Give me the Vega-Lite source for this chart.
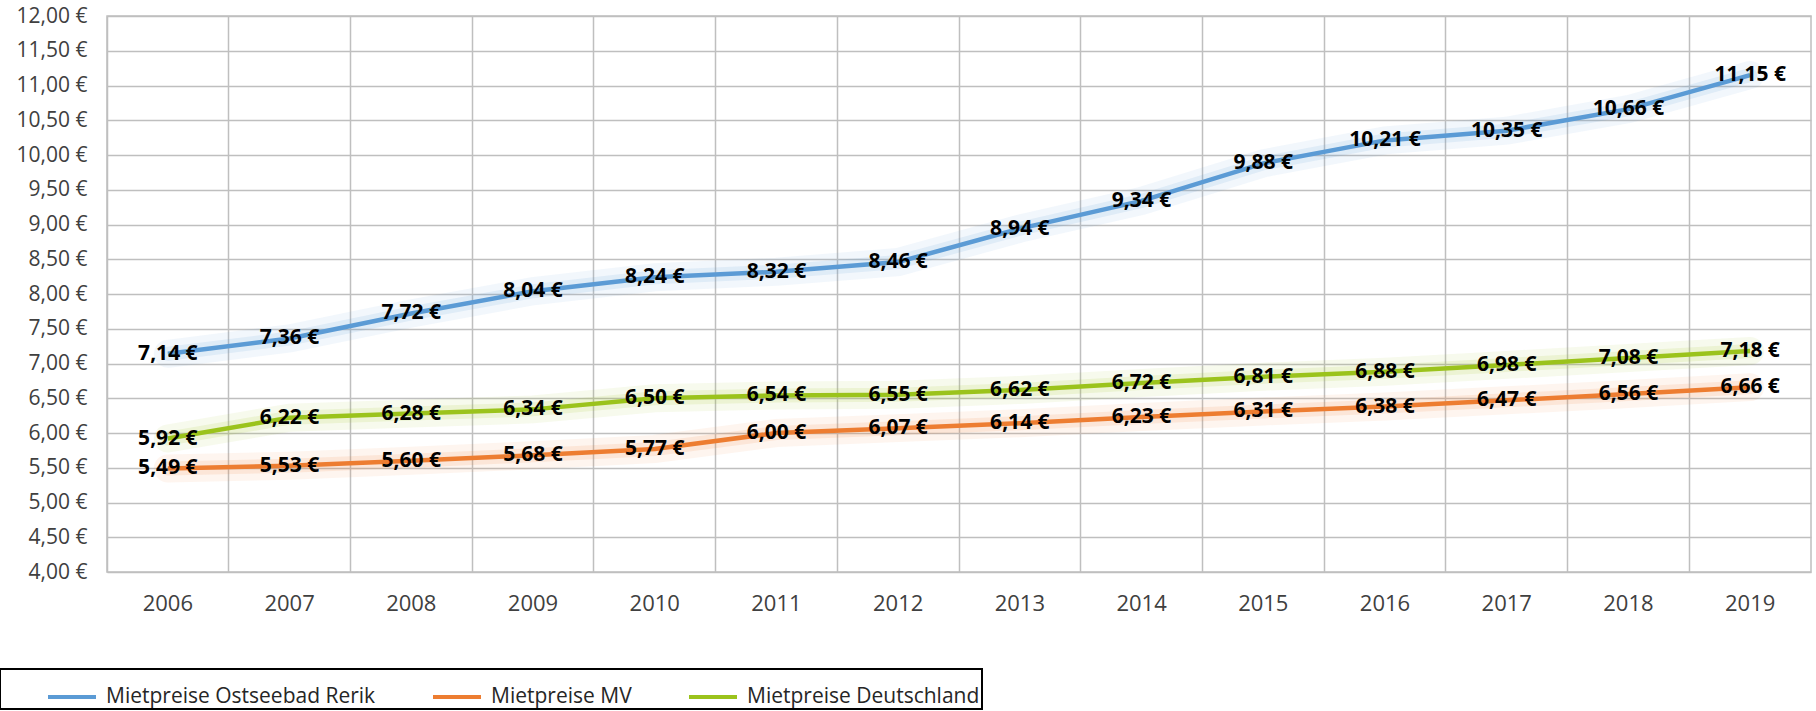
{
  "$schema": "https://vega.github.io/schema/vega-lite/v6.json",
  "width": 1704,
  "height": 556,
  "autosize": {"type": "none"},
  "padding": {"left": 107, "top": 16, "right": 5, "bottom": 139},
  "background": "white",
  "data": {
    "values": [
      {"year": "2006", "series": "Mietpreise Ostseebad Rerik", "value": 7.14},
      {"year": "2007", "series": "Mietpreise Ostseebad Rerik", "value": 7.36},
      {"year": "2008", "series": "Mietpreise Ostseebad Rerik", "value": 7.72},
      {"year": "2009", "series": "Mietpreise Ostseebad Rerik", "value": 8.04},
      {"year": "2010", "series": "Mietpreise Ostseebad Rerik", "value": 8.24},
      {"year": "2011", "series": "Mietpreise Ostseebad Rerik", "value": 8.32},
      {"year": "2012", "series": "Mietpreise Ostseebad Rerik", "value": 8.46},
      {"year": "2013", "series": "Mietpreise Ostseebad Rerik", "value": 8.94},
      {"year": "2014", "series": "Mietpreise Ostseebad Rerik", "value": 9.34},
      {"year": "2015", "series": "Mietpreise Ostseebad Rerik", "value": 9.88},
      {"year": "2016", "series": "Mietpreise Ostseebad Rerik", "value": 10.21},
      {"year": "2017", "series": "Mietpreise Ostseebad Rerik", "value": 10.35},
      {"year": "2018", "series": "Mietpreise Ostseebad Rerik", "value": 10.66},
      {"year": "2019", "series": "Mietpreise Ostseebad Rerik", "value": 11.15},
      {"year": "2006", "series": "Mietpreise MV", "value": 5.49},
      {"year": "2007", "series": "Mietpreise MV", "value": 5.53},
      {"year": "2008", "series": "Mietpreise MV", "value": 5.60},
      {"year": "2009", "series": "Mietpreise MV", "value": 5.68},
      {"year": "2010", "series": "Mietpreise MV", "value": 5.77},
      {"year": "2011", "series": "Mietpreise MV", "value": 6.00},
      {"year": "2012", "series": "Mietpreise MV", "value": 6.07},
      {"year": "2013", "series": "Mietpreise MV", "value": 6.14},
      {"year": "2014", "series": "Mietpreise MV", "value": 6.23},
      {"year": "2015", "series": "Mietpreise MV", "value": 6.31},
      {"year": "2016", "series": "Mietpreise MV", "value": 6.38},
      {"year": "2017", "series": "Mietpreise MV", "value": 6.47},
      {"year": "2018", "series": "Mietpreise MV", "value": 6.56},
      {"year": "2019", "series": "Mietpreise MV", "value": 6.66},
      {"year": "2006", "series": "Mietpreise Deutschland", "value": 5.92},
      {"year": "2007", "series": "Mietpreise Deutschland", "value": 6.22},
      {"year": "2008", "series": "Mietpreise Deutschland", "value": 6.28},
      {"year": "2009", "series": "Mietpreise Deutschland", "value": 6.34},
      {"year": "2010", "series": "Mietpreise Deutschland", "value": 6.50},
      {"year": "2011", "series": "Mietpreise Deutschland", "value": 6.54},
      {"year": "2012", "series": "Mietpreise Deutschland", "value": 6.55},
      {"year": "2013", "series": "Mietpreise Deutschland", "value": 6.62},
      {"year": "2014", "series": "Mietpreise Deutschland", "value": 6.72},
      {"year": "2015", "series": "Mietpreise Deutschland", "value": 6.81},
      {"year": "2016", "series": "Mietpreise Deutschland", "value": 6.88},
      {"year": "2017", "series": "Mietpreise Deutschland", "value": 6.98},
      {"year": "2018", "series": "Mietpreise Deutschland", "value": 7.08},
      {"year": "2019", "series": "Mietpreise Deutschland", "value": 7.18}
    ]
  },
  "encoding": {
    "x": {
      "field": "year", "type": "ordinal", "title": null,
      "scale": {"type": "band", "paddingInner": 0, "paddingOuter": 0},
      "axis": {
        "grid": true, "bandPosition": 0, "gridColor": "#BFBFBF", "gridWidth": 1.5,
        "ticks": false, "domain": false, "labelAngle": 0,
        "labelFontSize": 22, "labelPadding": 21, "labelColor": "#404040",
        "labelFont": "Open Sans"
      }
    },
    "y": {
      "field": "value", "type": "quantitative", "title": null,
      "scale": {"domain": [4, 12], "nice": false, "zero": false},
      "axis": {
        "values": [4, 4.5, 5, 5.5, 6, 6.5, 7, 7.5, 8, 8.5, 9, 9.5, 10, 10.5, 11, 11.5, 12],
        "format": "$.2f",
        "grid": true, "gridColor": "#BFBFBF", "gridWidth": 1.5,
        "ticks": false, "domain": false,
        "labelFontSize": 21, "labelPadding": 20, "labelColor": "#404040",
        "labelFont": "Open Sans"
      }
    },
    "color": {
      "field": "series", "type": "nominal",
      "scale": {
        "domain": ["Mietpreise Ostseebad Rerik", "Mietpreise MV", "Mietpreise Deutschland"],
        "range": ["#5B9BD5", "#ED7D31", "#9BC31C"]
      },
      "legend": {
        "orient": "none", "legendX": -107, "legendY": 653,
        "direction": "horizontal", "title": " ", "titleOrient": "left", "titlePadding": 44,
        "strokeColor": "#000000", "padding": 2,
        "symbolType": "stroke", "symbolSize": 2304, "symbolStrokeWidth": 4, "symbolOpacity": 1,
        "labelFontSize": 21, "labelFont": "Open Sans", "labelColor": "#262626",
        "labelOffset": 8, "columnPadding": 49, "labelLimit": 400
      }
    }
  },
  "layer": [
    {
      "mark": {"type": "line", "strokeWidth": 28, "opacity": 0.08, "strokeCap": "round"}
    },
    {
      "mark": {"type": "line", "strokeWidth": 14, "opacity": 0.12, "strokeCap": "round"}
    },
    {
      "mark": {"type": "line", "strokeWidth": 4.5}
    },
    {
      "mark": {"type": "text", "fontWeight": "bold", "fontSize": 21, "font": "Open Sans", "color": "#000000", "baseline": "middle", "align": "center"},
      "encoding": {
        "text": {"field": "value", "type": "quantitative", "format": "$.2f"},
        "color": {"value": "#000000"}
      }
    }
  ],
  "config": {
    "view": {"stroke": "#BFBFBF", "strokeWidth": 1.5},
    "legend": {"strokeWidth": 2},
    "locale": {"number": {"decimal": ",", "thousands": ".", "grouping": [3], "currency": ["", " €"]}}
  }
}
